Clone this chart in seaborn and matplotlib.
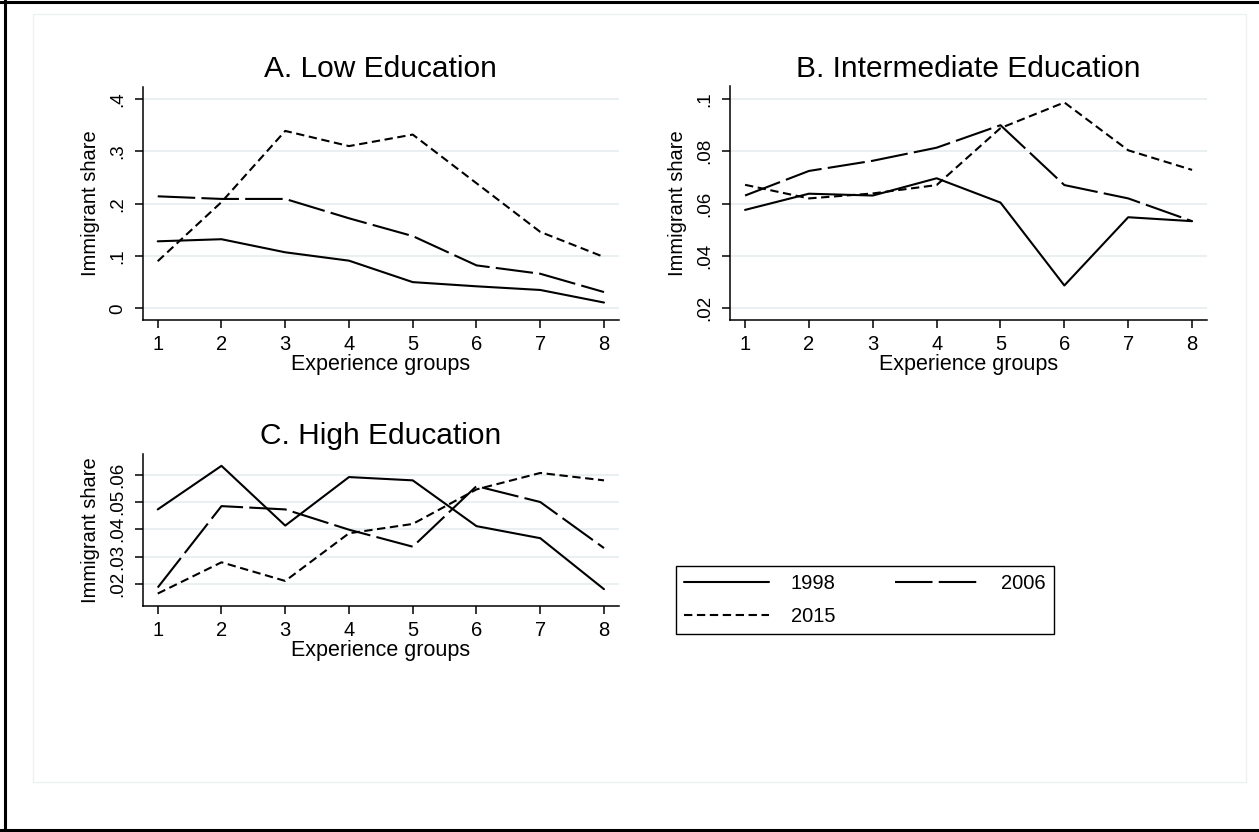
import matplotlib
matplotlib.use("Agg")
import matplotlib.pyplot as plt
from matplotlib.lines import Line2D
from matplotlib.patches import Rectangle
import seaborn as sns
import pandas as pd

# ---- data ----
groups = [1, 2, 3, 4, 5, 6, 7, 8]
years = ["1998", "2006", "2015"]

low_1998 = [0.128, 0.132, 0.107, 0.091, 0.050, 0.042, 0.035, 0.011]
low_2006 = [0.214, 0.209, 0.209, 0.172, 0.138, 0.082, 0.066, 0.031]
low_2015 = [0.090, 0.203, 0.339, 0.310, 0.332, 0.239, 0.146, 0.098]

mid_1998 = [0.0576, 0.0638, 0.0631, 0.0697, 0.0604, 0.0287, 0.0548, 0.0533]
mid_2006 = [0.0631, 0.0725, 0.0764, 0.0814, 0.0900, 0.0671, 0.0620, 0.0533]
mid_2015 = [0.0672, 0.0620, 0.0639, 0.0671, 0.0889, 0.0987, 0.0804, 0.0729]

high_1998 = [0.0473, 0.0632, 0.0414, 0.0591, 0.0579, 0.0412, 0.0368, 0.0182]
high_2006 = [0.0188, 0.0485, 0.0473, 0.0399, 0.0337, 0.0558, 0.0500, 0.0332]
high_2015 = [0.0166, 0.0280, 0.0212, 0.0386, 0.0420, 0.0546, 0.0606, 0.0579]

panel_titles = ["A. Low Education", "B. Intermediate Education", "C. High Education"]
low_yticks = [0, 0.1, 0.2, 0.3, 0.4]
low_ylabels = ["0", ".1", ".2", ".3", ".4"]
mid_yticks = [0.02, 0.04, 0.06, 0.08, 0.10]
mid_ylabels = [".02", ".04", ".06", ".08", ".1"]
high_yticks = [0.02, 0.03, 0.04, 0.05, 0.06]
high_ylabels = [".02", ".03", ".04", ".05", ".06"]


def long_df(s1998, s2006, s2015):
    frames = []
    for y, vals in zip(years, [s1998, s2006, s2015]):
        frames.append(pd.DataFrame({"group": groups, "share": vals, "year": y}))
    return pd.concat(frames, ignore_index=True)


sns.set_style("white")
plt.rcParams["font.family"] = ["Liberation Sans", "DejaVu Sans"]
plt.rcParams["text.color"] = "black"
plt.rcParams["axes.labelcolor"] = "black"
plt.rcParams["xtick.color"] = "black"
plt.rcParams["ytick.color"] = "black"

W, H = 1259, 832
fig = plt.figure(figsize=(W / 100, H / 100), dpi=100)
fig.patch.set_facecolor("white")


def px_axes(left, top, right, bottom):
    return fig.add_axes([left / W, 1 - bottom / H, (right - left) / W, (bottom - top) / H])


dash_map = {"1998": "", "2006": (18, 3), "2015": (4, 2.2)}
grid_color = "#E8EFF1"

specs = [
    (px_axes(143, 86.5, 618.6, 320), long_df(low_1998, low_2006, low_2015),
     low_yticks, low_ylabels, (-0.0224, 0.4239)),
    (px_axes(730.3, 86.5, 1206.7, 320), long_df(mid_1998, mid_2006, mid_2015),
     mid_yticks, mid_ylabels, (0.0155, 0.1048)),
    (px_axes(143, 453.5, 618.6, 605.9), long_df(high_1998, high_2006, high_2015),
     high_yticks, high_ylabels, (0.0121, 0.0677)),
]

handles, labels = None, None
for i, (ax, df, yt, yl, ylim) in enumerate(specs):
    ax.set_facecolor("white")
    for t in yt:
        ax.axhline(t, color=grid_color, lw=1.3, zorder=0)
    sns.lineplot(data=df, x="group", y="share", style="year", dashes=dash_map,
                 color="black", lw=1.5, ax=ax, legend=(i == 0), sort=False)
    if i == 0:
        handles, labels = ax.get_legend_handles_labels()
        ax.get_legend().remove()
    ax.set_xlim(0.769, 8.229)
    ax.set_ylim(*ylim)
    ax.set_xticks(groups)
    ax.set_xticklabels([str(g) for g in groups], fontsize=14.5)
    ax.set_yticks(yt)
    ax.set_yticklabels(yl, fontsize=13.5)
    ax.tick_params(axis="both", direction="out", length=6, width=1.1, color="black",
                   pad=5, left=True, bottom=True)
    ax.tick_params(axis="y", labelrotation=90, pad=6)
    plt.setp(ax.get_yticklabels(), va="center")
    for s in ["top", "right"]:
        ax.spines[s].set_visible(False)
    for s in ["left", "bottom"]:
        ax.spines[s].set_color("black")
        ax.spines[s].set_linewidth(1.1)
    ax.set_xlabel("Experience groups", fontsize=15.5, labelpad=0)
    ax.set_ylabel("Immigrant share", fontsize=14.5, labelpad=7)
    ax.set_title(panel_titles[i], fontsize=21.5, pad=7)

# legend: order so rows read 1998, 2006 / 2015
order = [labels.index("1998"), labels.index("2015"), labels.index("2006")]
leg = fig.legend([handles[k] for k in order], [labels[k] for k in order],
                 loc="upper left", ncol=2, mode="expand",
                 bbox_to_anchor=(676 / W, 1 - 634 / H, 378 / W, 68 / H),
                 borderaxespad=0, fontsize=14.5, handlelength=4.2, handletextpad=1.1,
                 frameon=True, fancybox=False, framealpha=1, edgecolor="black",
                 borderpad=0.4, labelspacing=0.7)
leg.get_frame().set_linewidth(1.0)
for lh in leg.get_lines():
    lh.set_color("black")
    lh.set_linewidth(1.5)

# faint inner plot-region rectangle
fig.add_artist(Rectangle((33 / W, 1 - 782 / H), (1246 - 33) / W, (782 - 14) / H,
                         transform=fig.transFigure, fill=False,
                         edgecolor="#EEF1F2", linewidth=1.0, zorder=0))
# outer black border (left, top, bottom)
fig.add_artist(Line2D([5 / W, 5 / W], [0, 1], transform=fig.transFigure, color="black", lw=2.2))
fig.add_artist(Line2D([0, 1], [1 - 2 / H, 1 - 2 / H], transform=fig.transFigure, color="black", lw=2.2))
fig.add_artist(Line2D([0, 1], [1 - 830 / H, 1 - 830 / H], transform=fig.transFigure, color="black", lw=2.2))

fig.savefig("out.png", dpi=100, facecolor="white")
